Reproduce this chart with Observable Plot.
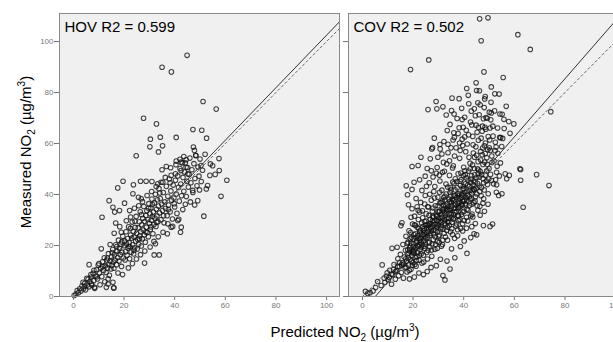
<!DOCTYPE html>
<html><head><meta charset="utf-8">
<script src="https://cdn.jsdelivr.net/npm/d3@7"></script>
<script src="https://cdn.jsdelivr.net/npm/@observablehq/plot@0.6"></script>
<style>
html,body{margin:0;padding:0;background:#fff;overflow:hidden;}
svg{max-width:none !important;}
</style></head><body><div id="chart"></div>
<script>
const panels = ["HOV", "COV"];
const r2Labels = ["HOV R2 = 0.599", "COV R2 = 0.502"];
const fitSlope = [1.03, 1.14];
const fitIntercept = [-0.5, -5.8];
const xTicks = [0, 20, 40, 60, 80, 100];
const yTicks = [0, 20, 40, 60, 80, 100];
const xLabel = ["Predicted NO", "2", " (µg/m", "3", ")"];
const yLabel = ["Measured NO", "2", " (µg/m", "3", ")"];

const hovPoints = [
[44.9,94.6],[35.0,89.9],[38.7,88.1],[51.2,76.5],[56.4,73.5],[27.7,69.9],[32.8,67.7],[47.2,65.5],[50.7,65.2],[30.4,61.7],[34.3,62.5],[40.6,62.4],[52.6,62.1],[30.2,58.7],[35.2,59.1],[33.6,56.7],[47.4,58.6],[47.8,57.3],[48.3,55.4],[24.8,55.2],[57.5,54.1],[40.6,53.1],[42.1,53.8],[43.6,54.9],[54.1,52.0],
[58.3,39.3],[60.6,45.6],[57.6,49.4],[51.5,31.5],[11.3,31.1],[14.1,37.6],[17.5,42.6],[19.6,45.2],[16.7,28.8],[42.3,25.2],[42.6,27.2],[31.9,16.3],[33.9,16.3],[28.1,13.1],[11.0,18.7],[6.2,12.5],[16.0,3.4],[13.7,4.9],
[23.7,43.8],[26.5,45.2],[28.7,45.2],[31.0,45.1],[33.3,44.2],[35.3,44.8],[38.2,44.6],[35.0,49.7],[36.7,51.0],[38.6,47.5],[40.3,48.1],[42.5,49.4],[44.5,50.7],[45.2,48.1],[42.5,52.7],[44.2,52.4],[50.4,51.4],[53.9,47.5],[53.0,43.5],[49.1,37.6],[47.1,41.6],[32.4,20.7],[41.2,29.8],[38.6,27.2],[37.3,28.5],[18.9,25.2],[15.6,35.0],[16.3,33.1],[18.2,33.7],[20.2,36.6],[22.2,33.7],[23.5,40.3],[25.7,38.9],[26.8,38.3],[0.3,0.4],[4.4,3.9],[7.1,5.0],[8.4,3.6],[13.0,3.6],[15.9,3.3],[15.6,5.6],[13.7,6.9],
[1,1],[1.5,2.3],[2,1.5],[2.5,3],[3,2.2],[3.4,4.1],[4,3],[4.5,5.2],[4.8,2.6],[5.5,4.5],[5.8,6.8],[6.2,3.8],[6.5,5.9],[7,7.6],[7.3,4.4],[7.8,9.1],[8,6.2],[8.4,3.2],[8.8,8],[9.1,10.5],[9.5,6.9],[9.8,12.3],[10.2,9.2],[10.5,4.6],[10.8,11.1],[11.2,7.8],[11.5,13.6],[11.9,10.2],[12.2,15.2],[12.4,5.8],
[12.6,12.1],[12.9,9.4],[13.2,14.3],[13.5,11.2],[13.8,16.8],[14,12.6],[14.2,8.3],[14.5,13.9],[14.8,10.8],[15,15.6],[15.2,12.2],[15.5,18.4],[15.8,13.5],[16,11.1],[16.2,16.4],[16.5,14.2],[16.7,20.3],[17,12.5],[17.2,17.7],[17.5,15.3],[17.8,22.1],[18,13.9],[18.2,18.8],[18.5,16.4],[18.8,20.5],[19,11.8],[19.2,17.3],[19.5,23.6],[19.7,15.1],[20,19.9],[20.2,21.8],[20.4,14.3],[20.6,17.6],[20.8,25.4],[21,20.6],
[21.2,16.2],[21.4,22.7],[21.6,18.9],[21.8,27.3],[22,21.2],[22.2,14.8],[22.4,19.5],[22.6,24.1],[22.8,17.4],[23,22.9],[23.2,29.2],[23.4,20.3],[23.6,25.6],[23.8,16.7],[24,23.3],[24.2,19.1],[24.4,27.1],[24.6,21.7],[24.8,31.4],[25,24.8],[25.2,18.6],[25.4,22.4],[25.6,26.9],[25.8,20.5],[26,29.3],[26.2,23.7],[26.4,33.2],[26.6,25.4],[26.8,19.8],[27,28.1],[27.2,22.6],[27.4,30.7],[27.6,26.1],[27.8,35.3],[28,24.2],[28.2,29.4],[28.4,21.3],[28.6,31.8],[28.8,27.2],[29,33.6],[29.2,25.1],[29.4,30.2],[29.6,23.4],[29.8,36.4],[30,28.7],[30.2,32.5],
[30.4,26.3],[30.6,34.8],[30.8,29.9],[31,38.2],[31.2,31.4],[31.4,24.6],[31.6,33.1],[31.8,28.2],[32,36.7],[32.2,30.8],[32.4,40.1],[32.6,27.5],[32.8,34.2],[33,31.6],[33.2,37.9],[33.4,29.3],[33.6,35.5],[33.8,42.3],[34,32.8],[34.3,38.4],[34.6,30.1],[34.9,36.2],[35.2,33.7],[35.5,40.8],[35.8,28.9],[36.1,37.1],[36.4,34.5],[36.7,43.2],[37,31.7],[37.3,39.3],[37.6,35.9],[37.9,46.1],[38.2,33.2],[38.5,41.4],[38.8,37.8],[39.1,30.4],[39.4,43.7],[39.7,38.6],[40,35.1],
[40.3,45.6],[40.6,40.2],[40.9,32.6],[41.2,47.3],[41.5,42.8],[41.8,37.4],[42.1,50.2],[42.4,44.1],[42.7,39.5],[43,52.4],[43.3,46.7],[43.6,41.3],[43.9,48.8],[44.2,36.2],[44.5,53.6],[44.8,45.2],[45.1,50.6],[45.4,42.9],[45.7,47.9],[46,54.3],[46.4,44.6],[46.8,49.7],[47.2,40.8],[47.6,52.1],[48,46.3],[48.4,55.2],[48.8,43.4],[49.2,50.8],[49.6,47.2],[50,53.9],[50.5,45.1],[51,49.5],[52,55.8],[52.5,42.2],[55,51.3],[56,47.9],
[14.5,20.4],[16.1,24.8],[17.6,9.2],[18.3,27.4],[19.4,8.6],[20.9,29.7],[21.7,11.2],[22.6,31.2],[23.3,12.9],[24.1,34.6],[24.9,14.7],[25.8,35.6],[26.5,16.4],[27.3,37.2],[28.2,17.8],[29.1,39.6],[30.3,19.4],[30.9,41.2],[31.8,21.6],[32.7,43.1],[33.5,23.4],[34.6,44.8],[35.4,25.2],[36.3,46.7],[37.1,24.6],[38.4,50.5],[39.2,27.5],[40.5,51.7],[41.6,30.3],[43.2,34.1],[44.6,39.2],[46.2,37.1],[47.9,35.9],[49.8,41.8],[19.1,21.4],[21.9,19.6],[23.9,18.1],[26.1,22.7],[28.6,25.3],[30.6,27.3],[32.9,29.1],[35.6,31.7],[37.5,34.1],[39.8,36.4],[22.5,26.7],[24.3,29.5],[26.9,32.1],[29.7,34.6],[31.2,36.1],[34.1,40.6],[17.1,19.6],[15.3,17.2],[13.4,15.1],[11.6,11.7],[10.1,12.9],[9.3,7.7],[8.1,10.3],[6.9,8.6],[5.3,7.1],[3.8,5.6]
];

const covPoints = [
[46.3,108.9],[49.6,109.3],[61.4,102.7],[46.9,100.3],[66.3,96.9],[26.2,92.8],[19.0,89.0],[48.0,88.1],[55.6,85.9],[44.9,83.8],[50.9,82.2],[41.2,81.6],[45.1,80.8],[46.2,80.7],[48.5,78.4],[48.3,77.5],[35.4,77.8],[38.2,77.6],[29.1,76.5],[42.0,75.6],[45.6,76.0],[25.9,73.3],[29.4,73.6],[31.8,74.4],[35.2,72.9],[33.1,71.2],[36.2,71.6],[56.8,74.6],[43.0,72.7],[50.1,72.3],[50.9,72.0],[54.3,71.6],[74.4,72.5],[39.4,69.4],[44.6,70.9],[47.8,69.7],[55.9,69.5],[57.8,68.6],[59.8,67.7],[33.5,65.1],[38.2,66.2],[41.0,65.2],[43.2,67.3],[45.8,66.4],[48.4,66.4],[50.4,66.1],[36.3,62.4],[54.2,62.4],[55.4,62.0],[58.3,64.0],[27.7,58.4],[30.6,59.6],[35.0,58.3],[39.6,59.2],
[68.8,47.8],[62.5,49.8],[62.5,45.6],[63.5,35.0],[56.4,48.1],[58.0,47.5],[57.0,46.2],[52.6,45.8],[53.0,43.8],[55.1,40.3],[53.8,39.6],[52.9,40.9],[51.4,28.4],[50.4,27.5],[47.8,27.8],[45.1,24.2],[44.1,24.6],[41.3,16.9],[34.6,10.8],[32.6,6.5],[31.8,8.2],[11.7,18.9],[13.7,19.3],[7.8,12.4],[15.2,27.8],[15.6,28.9],[19.6,51.0],[22.0,51.4],[17.3,43.4],[19.6,42.0],[17.8,39.9],[18.2,36.0],[19.6,34.4],[6.0,5.9],[8.9,5.6],[1.2,2.0],[4.2,2.2],[73.7,43.5],[62.2,50.1],
[2.1,1.2],[5.2,3.5],[3,1.5],[9.5,8],[10.2,6.5],[10.8,10.3],[11.5,4.8],[12,8.5],[12.5,12.5],[13,6.8],[13.5,10.2],[14,14.8],[14.3,8.1],[14.6,11.7],[15,16.5],[15.4,9.4],[15.8,13.2],[16,20.4],[16.2,7.2],[16.5,15.5],[16.8,11.3],[17,18.1],[17.2,23.6],
[17.4,13.8],[17.6,9.6],[17.8,16.7],[18,21.3],[18.2,12.4],[18.4,25.8],[18.6,17.9],[18.8,14.6],[19,19.8],[19.2,10.7],[19.4,23.2],[19.6,16.1],[19.8,28.4],[20,13.3],[20.2,20.7],[20.4,18.2],[20.6,31.5],[20.8,15.4],[21,24.6],[21.2,11.9],[21.4,21.8],[21.6,27.2],[21.8,17.2],[22,33.8],[22.2,19.6],[22.4,14.2],[22.6,25.3],[22.8,22.1],[23,36.9],[23.2,16.7],[23.4,28.8],[23.6,20.4],[23.8,30.9],[24,24.1],[24.2,13.5],[24.4,26.7],[24.6,18.8],[24.8,39.6],[25,22.9],[25.2,32.4],[25.4,17.3],[25.6,28.1],[25.8,35.2],[26,21.1],[26.2,26.2],[26.4,44.6],[26.6,19.4],[26.8,30.3],[27,24.7],[27.2,37.8],[27.4,15.8],[27.6,33.4],[27.8,27.6],[28,22.3],[28.2,41.2],[28.4,29.8],[28.6,18.5],[28.8,35.6],[29,25.9],[29.2,48.3],[29.4,31.4],[29.6,21.6],[29.8,38.9],[30,27.8],[30.2,33.2],[30.4,24.1],[30.6,45.3],[30.8,29.6],[31,36.8],[31.2,19.7],[31.4,41.7],[31.6,31.1],[31.8,26.4],[32,52.6],[32.2,34.5],[32.4,28.7],[32.6,39.3],[32.8,23.3],[33,44.1],[33.2,32.7],[33.4,36.3],[33.6,27.2],[33.8,56.4],[34,30.6],[34.2,38.2],[34.4,47.5],[34.6,33.8],[34.8,25.4],[35,41.8],[35.2,35.5],[35.4,29.1],[35.6,50.4],[35.8,37.6],[36,32.2],[36.2,44.3],[36.4,22.8],[36.6,39.5],[36.8,34.7],[37,58.3],[37.2,28.4],[37.4,42.6],[37.6,36.6],[37.8,48.1],[38,31.5],[38.2,40.4],[38.4,54.2],[38.6,35.2],[38.8,26.7],[39,45.9],[39.2,38.8],[39.4,61.7],[39.6,33.1],[39.8,43.2],[40,50.7],[40.2,29.8],[40.4,40.9],[40.6,36.4],[40.8,56.8],[41,46.5],[41.3,34.2],[41.6,43.7],[41.9,63.4],[42.2,39.1],[42.5,52.3],[42.8,31.6],[43.1,47.4],[43.4,41.5],[43.7,59.5],[44,36.8],[44.3,54.6],[44.6,44.9],[44.9,67.2],[45.2,40.2],[45.5,50.1],[45.8,61.3],[46.1,46.8],[46.4,35.4],[46.7,56.9],[47,42.7],[47.3,64.8],[47.6,51.8],[47.9,38.3],[48.2,59.1],[48.5,47.6],[48.8,70.2],[49.1,54.4],[49.4,43.9],[49.7,62.7],[50,50.2],[50.5,57.3],[51,45.5],[51.5,66.8],[52,53.1],[52.5,60.5],[53,48.7],[53.5,56.2],[54.5,52.4],[55,58.8],
[18.1,15.2],[18.9,22.6],[19.3,13.9],[19.9,17.4],[20.3,24.3],[20.7,12.6],[21.1,19.1],[21.5,15.7],[21.9,23.9],[22.3,26.6],[22.7,18.3],[23.1,21.4],[23.5,13.1],[23.9,27.4],[24.3,19.7],[24.7,23.5],[25.1,29.6],[25.5,25.1],[25.9,18.1],[26.3,31.8],[26.7,23.9],[27.1,28.3],[27.5,20.6],[27.9,34.7],[28.3,26.1],[28.7,23.4],[29.1,31.9],[29.5,28.3],[29.9,35.6],[30.3,21.2],[30.7,30.7],[31.1,27.1],[31.5,37.4],[31.9,33.5],[32.3,24.8],[32.7,31.6],[33.1,40.2],[33.5,29.4],[33.9,35.1],[34.3,27.8],[34.7,42.7],[35.1,32.4],[35.5,38.1],[35.9,30.3],[36.3,35.9],[36.7,46.2],[37.1,33.3],[37.5,40.2],[37.9,29.7],[38.3,37.4],[38.7,43.6],[39.1,32.2],[39.5,40.1],[39.9,47.4],[40.3,37.6],[40.7,44.2],[41.1,31.1],[41.5,39.8],[41.9,49.2],[42.3,35.7],[42.7,44.8],[43.1,38.4],[43.5,51.6],[43.9,42.1],[44.3,47.7],[44.7,39.1],[45.1,55.4],[45.5,44.3],[45.9,49.6],[46.3,41.2],[46.7,53.5],[47.1,47.8],[47.5,58.2],[47.9,44.6],[48.3,52.7],[48.7,65.6],[49.1,49.3],[49.5,57.6],[49.9,46.1],[50.3,61.4],[50.7,69.3],[51.1,55.1],[51.6,62.9],[52.2,72.8],[52.8,58.6],[53.4,66.1],[54,79.4],[54.6,62.3],[55.2,71.5],[56,65.9],
[22.5,20.5],[23.3,24.6],[24.1,21.8],[24.9,27.9],[25.7,23.2],[26.5,28.6],[27.3,25.8],[28.1,31.1],[28.9,28.4],[29.7,25.3],[30.5,33.5],[31.3,29.2],[32.1,35.7],[32.9,28.1],[33.7,33.9],[34.5,37.2],[35.3,31.2],[36.1,39.6],[36.9,36.1],[37.7,31.9],[38.5,38.5],[39.3,35.7],[40.1,42.3],[40.9,38.7],[41.7,45.6],[42.5,41.6],[43.3,36.2],[44.1,45.3],[44.9,42.4],[45.7,48.2],[30.1,30.9],[31.7,34.1],[33.3,30.5],[34.9,34.6],[36.5,32.9],[38.1,34.9],[39.7,37.4],[27.7,29.7],[26.1,25.4],[24.5,24.8],[22.9,22.7],[21.3,21.1],[20.1,19.4],[19.5,18.6],[18.7,19.1],[17.9,18.3],[17.1,14.8],[16.3,12.6],[15.5,12.4],[14.7,13.3],[13.9,11.8],[13.1,9.8],[12.3,10.6],[11.4,8.7],[10.6,7.5],[9.8,9.3],[8.6,7.2],[7.4,4.3],
[27.4,57.9],[30.7,57.9],[38.6,57.3],[26.8,54],[33.3,52],[35.9,51.3],[29.5,50.6],[24.8,47.2],[22.6,45.8],[27.9,46.9],[31.6,48.7],[23.5,41.6],[21.2,38.4],[20.4,44.8],[25.3,43.2],[19.2,31.1],[21.6,35.2],[23.1,54.6],[28.4,62.1],[32.2,60.8],[36.1,64.2],[34.6,67.5],[40.4,70.3],[42.7,68.4],[44.2,73.6],[46.5,75.2],[41.8,78.9],[39.2,73.8],[37.4,69.8],[43.6,62.8],[45.3,64.4],[47.4,66.8],[49.3,69.9],[46.1,71.3],[48.1,74.1],[50.8,76.2],[52.3,79.5],[44.8,58.7],[46.9,62.1],[48.6,60.2],
[36.5,15.2],[38.7,19.6],[40.2,21.8],[42.8,23.1],[37.6,23.8],[35.2,18.7],[33.4,13.9],[30.8,14.6],[29.2,12.1],[27.1,11.4],[25.6,9.8],[24.1,8.6],[22.3,9.2],[20.5,7.6],[18.6,6.9],[44.6,28.6],[46.5,31.9],[48.2,33.4],[49.6,36.2],[43.2,27.4],[39.6,25.7],[41.1,26.8],
[17.2,11.6],[17.7,20.8],[18.3,17.1],[18.5,10.2],[19.1,25.1],[19.7,12.2],[20.1,22.6],[20.5,16.8],[20.9,27.9],[21.3,14.1],[21.7,19.9],[22.1,30.2],[22.5,16.1],[22.9,25.8],[23.3,19.2],[23.7,33.6],[24.1,16.2],[24.5,29.4],[24.9,20.6],[25.3,26.8],[25.7,14.7],[26.1,35.1],[26.5,21.3],[26.9,27.3],[27.3,18.2],[27.7,31.4],[28.1,24.5],[28.5,38.6],[28.9,20.4],[29.3,27.1],[29.7,33.2],[30.1,23.6],[30.5,40.9],[30.9,26.5],[31.3,32.2],[31.7,22.1],[32.1,38.8],[32.5,30.1],[32.9,35.6],[33.3,25.9],[33.7,42.9],[34.1,29.2],[34.5,34.2],[34.9,39.4],[35.3,26.6],[35.7,44.9],[36.1,30.8],[36.5,37.8],[36.9,27.6],[37.3,45.1],[37.7,34.4],[38.1,39.5],[38.5,30.2],[38.9,48.4],[39.3,36.2],[39.7,42.1],[40.1,33.4],[40.5,49.3],[40.9,35.9],[41.3,41.3],[41.7,33.8],[42.1,54.6],[42.5,38.2],[42.9,46.1],[43.3,32.3],[43.7,43.9],[44.1,50.2],[44.5,37.4],[44.9,46.5],[45.3,35.6],[45.7,52.9],[46.1,43.3],[46.5,49.1],[46.9,39.5],[47.3,55.6],[47.7,46.2],[48.1,41.8],[48.5,56.1],[48.9,45.3],[49.3,51.8],[49.7,40.3],[50.1,58.3],[50.6,47.9],[51.2,52.6],[51.8,44.2],[52.4,57.2],[53.2,51.1],[54.1,47.3],[28.2,28.9],[29.4,29.9],[30.2,29.1],[31.4,31.2],[32.3,33.1],[33.2,34.2],[34.2,32.5],[35.2,36.9],[36.2,34.6],[37.2,38.8],[38.2,36.7],[39.2,39.9],[40.2,39.6],[41.2,37.6],[42.2,43.1],[43.2,40.6],[44.2,41.9],[27.2,26.9],[26.2,27.9],[25.2,24.2],[24.2,25.9],[23.2,23.1],[22.2,22.9],[21.2,23.1],[20.2,17.6],[19.2,20.9],[30.6,36.7],[32.6,37.9],[34.6,40.8],[36.6,41.8],[38.6,45.2],[40.6,47.8],[42.6,50.1],[29.6,18.9],[31.6,20.4],[33.6,22.1],[35.6,24.3],[37.6,26.2],[39.6,28.5],[41.6,29.6],[43.6,31.2],[45.6,33.8],[47.6,36.6],[28.6,43.1],[30.4,47.6],[32.4,49.1],[34.4,53.2],[36.4,55.1],[38.4,60.2],[40.4,62.6],[26.6,40.1],[24.6,36.3],[22.6,33.1],[20.6,28.1],[25.6,50.2],[27.2,49.3],[29.8,54.6],[31.4,55.9],[33.8,59.7],[35.8,61.4],[37.8,63.9],[39.8,66.4],[41.4,59.8],[43.8,56.3]
];

const points = [
  ...hovPoints.map(([x, y]) => ({panel: panels[0], x, y})),
  ...covPoints.map(([x, y]) => ({panel: panels[1], x, y}))
];
const xMax = 110;
const fits = panels.map((p, i) => ({panel: p, x1: 0, y1: fitIntercept[i], x2: xMax, y2: fitIntercept[i] + fitSlope[i] * xMax}));
const identity = panels.map(p => ({panel: p, x1: 0, y1: 0, x2: xMax, y2: xMax}));
const labels = panels.map((p, i) => ({panel: p, text: r2Labels[i]}));

const font = "'Liberation Sans', Arial, sans-serif";
const svg = Plot.plot({
  width: 629, height: 342,
  marginLeft: 58, marginRight: 0, marginTop: 13, marginBottom: 46,
  style: {fontFamily: font, background: "#fff", maxWidth: "none", overflow: "visible"},
  fx: {domain: panels, paddingInner: 0.031, paddingOuter: 0, axis: null, label: null},
  x: {domain: [-5.5, 105.1], label: null},
  y: {domain: [0, 111], label: null},
  marks: [
    Plot.frame({fill: "#f0f0f0", stroke: null}),
    Plot.dot(points, {fx: "panel", x: "x", y: "y", r: 2.3, stroke: "#111", strokeOpacity: 0.78, strokeWidth: 1.05, fill: "none"}),
    Plot.link(identity, {fx: "panel", x1: "x1", y1: "y1", x2: "x2", y2: "y2", stroke: "#666", strokeWidth: 1, strokeDasharray: "3,2", clip: true}),
    Plot.link(fits, {fx: "panel", x1: "x1", y1: "y1", x2: "x2", y2: "y2", stroke: "#333", strokeWidth: 1, clip: true}),
    Plot.text(labels, {fx: "panel", text: "text", frameAnchor: "top-left", dx: 5, dy: 8, fontSize: 15, fill: "#000", textAnchor: "start"}),
    Plot.axisX({ticks: xTicks, tickSize: 4, tickPadding: 2, fontSize: 8, color: "#777", label: null}),
    Plot.axisY({ticks: yTicks, tickSize: 5, tickPadding: 1, fontSize: 8, color: "#777", label: null}),
    Plot.axisY({ticks: yTicks, tickSize: 5, tickFormat: () => "", color: "#777", label: null, facetAnchor: null}),
    Plot.frame({stroke: "#8a8a8a", strokeWidth: 1})
  ]
});
document.getElementById("chart").appendChild(svg);

const s = d3.select(svg);
function addLabel(parts, x, y, rotate) {
  const t = s.append("text")
    .attr("transform", `translate(${x},${y})` + (rotate ? " rotate(-90)" : ""))
    .attr("text-anchor", "middle").attr("font-size", 15).attr("font-family", font).attr("fill", "#000");
  t.append("tspan").text(parts[0]);
  t.append("tspan").attr("font-size", 10).attr("dy", 4).text(parts[1]);
  t.append("tspan").attr("dy", -4).text(parts[2]);
  t.append("tspan").attr("font-size", 10).attr("dy", -6).text(parts[3]);
  t.append("tspan").attr("dy", 6).text(parts[4]);
}
addLabel(xLabel, 345, 337, false);
addLabel(yLabel, 31, 152, true);
</script>
</body></html>
